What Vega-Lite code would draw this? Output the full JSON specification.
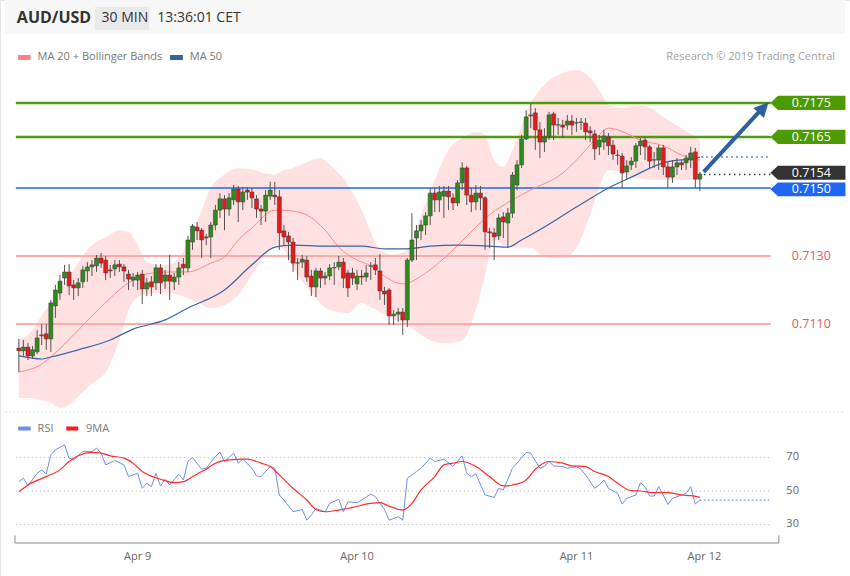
{
"$schema":"https://vega.github.io/schema/vega-lite/v6.json",
"width":850,"height":576,
"autosize":{"type":"fit","contains":"padding"},
"padding":0,
"background":"white",
"config":{"view":{"stroke":"#e4e4e4"},"font":"Open Sans"},
"datasets":{
"k":[
{"i":0,"o":0.71029,"h":0.71056,"l":0.70959,"c":0.71021},
{"i":1,"o":0.71021,"h":0.71053,"l":0.71006,"c":0.71032},
{"i":2,"o":0.71032,"h":0.71044,"l":0.70994,"c":0.71006},
{"i":3,"o":0.71006,"h":0.71035,"l":0.70997,"c":0.71024},
{"i":4,"o":0.71018,"h":0.71082,"l":0.71012,"c":0.71059},
{"i":5,"o":0.71065,"h":0.71100,"l":0.71038,"c":0.71068},
{"i":6,"o":0.71071,"h":0.71100,"l":0.71024,"c":0.71056},
{"i":7,"o":0.71056,"h":0.71171,"l":0.71018,"c":0.71162},
{"i":8,"o":0.71153,"h":0.71215,"l":0.71118,"c":0.71200},
{"i":9,"o":0.71191,"h":0.71244,"l":0.71171,"c":0.71226},
{"i":10,"o":0.71235,"h":0.71274,"l":0.71215,"c":0.71253},
{"i":11,"o":0.71253,"h":0.71276,"l":0.71185,"c":0.71212},
{"i":12,"o":0.71215,"h":0.71229,"l":0.71171,"c":0.71206},
{"i":13,"o":0.71206,"h":0.71235,"l":0.71182,"c":0.71221},
{"i":14,"o":0.71224,"h":0.71271,"l":0.71206,"c":0.71259},
{"i":15,"o":0.71256,"h":0.71282,"l":0.71224,"c":0.71268},
{"i":16,"o":0.71268,"h":0.71288,"l":0.71241,"c":0.71274},
{"i":17,"o":0.71271,"h":0.71303,"l":0.71253,"c":0.71294},
{"i":18,"o":0.71294,"h":0.71309,"l":0.71265,"c":0.71279},
{"i":19,"o":0.71288,"h":0.71300,"l":0.71229,"c":0.71250},
{"i":20,"o":0.71259,"h":0.71274,"l":0.71235,"c":0.71256},
{"i":21,"o":0.71262,"h":0.71288,"l":0.71241,"c":0.71274},
{"i":22,"o":0.71276,"h":0.71288,"l":0.71253,"c":0.71268},
{"i":23,"o":0.71268,"h":0.71276,"l":0.71224,"c":0.71256},
{"i":24,"o":0.71247,"h":0.71259,"l":0.71200,"c":0.71232},
{"i":25,"o":0.71229,"h":0.71250,"l":0.71209,"c":0.71238},
{"i":26,"o":0.71229,"h":0.71253,"l":0.71200,"c":0.71244},
{"i":27,"o":0.71247,"h":0.71259,"l":0.71159,"c":0.71203},
{"i":28,"o":0.71203,"h":0.71235,"l":0.71182,"c":0.71221},
{"i":29,"o":0.71224,"h":0.71241,"l":0.71182,"c":0.71209},
{"i":30,"o":0.71221,"h":0.71276,"l":0.71200,"c":0.71265},
{"i":31,"o":0.71265,"h":0.71276,"l":0.71188,"c":0.71221},
{"i":32,"o":0.71226,"h":0.71259,"l":0.71203,"c":0.71244},
{"i":33,"o":0.71244,"h":0.71303,"l":0.71171,"c":0.71226},
{"i":34,"o":0.71224,"h":0.71250,"l":0.71200,"c":0.71238},
{"i":35,"o":0.71238,"h":0.71282,"l":0.71215,"c":0.71265},
{"i":36,"o":0.71276,"h":0.71294,"l":0.71244,"c":0.71265},
{"i":37,"o":0.71265,"h":0.71359,"l":0.71253,"c":0.71347},
{"i":38,"o":0.71341,"h":0.71394,"l":0.71318,"c":0.71388},
{"i":39,"o":0.71385,"h":0.71400,"l":0.71347,"c":0.71374},
{"i":40,"o":0.71376,"h":0.71382,"l":0.71294,"c":0.71347},
{"i":41,"o":0.71353,"h":0.71365,"l":0.71332,"c":0.71356},
{"i":42,"o":0.71356,"h":0.71400,"l":0.71294,"c":0.71391},
{"i":43,"o":0.71391,"h":0.71450,"l":0.71376,"c":0.71435},
{"i":44,"o":0.71435,"h":0.71485,"l":0.71412,"c":0.71468},
{"i":45,"o":0.71468,"h":0.71479,"l":0.71376,"c":0.71438},
{"i":46,"o":0.71438,"h":0.71485,"l":0.71418,"c":0.71471},
{"i":47,"o":0.71465,"h":0.71509,"l":0.71450,"c":0.71497},
{"i":48,"o":0.71497,"h":0.71506,"l":0.71400,"c":0.71459},
{"i":49,"o":0.71459,"h":0.71503,"l":0.71435,"c":0.71488},
{"i":50,"o":0.71494,"h":0.71503,"l":0.71465,"c":0.71488},
{"i":51,"o":0.71488,"h":0.71500,"l":0.71441,"c":0.71471},
{"i":52,"o":0.71468,"h":0.71479,"l":0.71412,"c":0.71438},
{"i":53,"o":0.71438,"h":0.71450,"l":0.71391,"c":0.71432},
{"i":54,"o":0.71432,"h":0.71494,"l":0.71400,"c":0.71479},
{"i":55,"o":0.71476,"h":0.71518,"l":0.71465,"c":0.71494},
{"i":56,"o":0.71479,"h":0.71518,"l":0.71450,"c":0.71474},
{"i":57,"o":0.71474,"h":0.71494,"l":0.71318,"c":0.71368},
{"i":58,"o":0.71374,"h":0.71391,"l":0.71332,"c":0.71356},
{"i":59,"o":0.71359,"h":0.71371,"l":0.71288,"c":0.71341},
{"i":60,"o":0.71341,"h":0.71353,"l":0.71253,"c":0.71279},
{"i":61,"o":0.71279,"h":0.71294,"l":0.71229,"c":0.71280},
{"i":62,"o":0.71282,"h":0.71303,"l":0.71265,"c":0.71291},
{"i":63,"o":0.71288,"h":0.71300,"l":0.71224,"c":0.71238},
{"i":64,"o":0.71241,"h":0.71259,"l":0.71182,"c":0.71209},
{"i":65,"o":0.71209,"h":0.71265,"l":0.71179,"c":0.71256},
{"i":66,"o":0.71256,"h":0.71265,"l":0.71206,"c":0.71235},
{"i":67,"o":0.71235,"h":0.71253,"l":0.71215,"c":0.71241},
{"i":68,"o":0.71241,"h":0.71276,"l":0.71229,"c":0.71265},
{"i":69,"o":0.71265,"h":0.71282,"l":0.71215,"c":0.71266},
{"i":70,"o":0.71268,"h":0.71300,"l":0.71259,"c":0.71282},
{"i":71,"o":0.71282,"h":0.71294,"l":0.71206,"c":0.71235},
{"i":72,"o":0.71250,"h":0.71259,"l":0.71179,"c":0.71206},
{"i":73,"o":0.71250,"h":0.71265,"l":0.71215,"c":0.71235},
{"i":74,"o":0.71218,"h":0.71259,"l":0.71200,"c":0.71241},
{"i":75,"o":0.71241,"h":0.71259,"l":0.71215,"c":0.71238},
{"i":76,"o":0.71238,"h":0.71274,"l":0.71224,"c":0.71250},
{"i":77,"o":0.71271,"h":0.71282,"l":0.71229,"c":0.71270},
{"i":78,"o":0.71274,"h":0.71294,"l":0.71244,"c":0.71259},
{"i":79,"o":0.71256,"h":0.71306,"l":0.71171,"c":0.71197},
{"i":80,"o":0.71197,"h":0.71209,"l":0.71156,"c":0.71188},
{"i":81,"o":0.71200,"h":0.71206,"l":0.71097,"c":0.71124},
{"i":82,"o":0.71124,"h":0.71141,"l":0.71097,"c":0.71129},
{"i":83,"o":0.71129,"h":0.71147,"l":0.71106,"c":0.71135},
{"i":84,"o":0.71135,"h":0.71147,"l":0.71068,"c":0.71112},
{"i":85,"o":0.71112,"h":0.71294,"l":0.71091,"c":0.71288},
{"i":86,"o":0.71288,"h":0.71426,"l":0.71282,"c":0.71347},
{"i":87,"o":0.71353,"h":0.71391,"l":0.71288,"c":0.71374},
{"i":88,"o":0.71374,"h":0.71406,"l":0.71347,"c":0.71391},
{"i":89,"o":0.71391,"h":0.71429,"l":0.71362,"c":0.71418},
{"i":90,"o":0.71418,"h":0.71500,"l":0.71391,"c":0.71485},
{"i":91,"o":0.71485,"h":0.71500,"l":0.71429,"c":0.71465},
{"i":92,"o":0.71465,"h":0.71506,"l":0.71429,"c":0.71488},
{"i":93,"o":0.71476,"h":0.71506,"l":0.71412,"c":0.71491},
{"i":94,"o":0.71491,"h":0.71506,"l":0.71435,"c":0.71474},
{"i":95,"o":0.71471,"h":0.71485,"l":0.71435,"c":0.71456},
{"i":96,"o":0.71456,"h":0.71524,"l":0.71447,"c":0.71515},
{"i":97,"o":0.71515,"h":0.71576,"l":0.71494,"c":0.71559},
{"i":98,"o":0.71559,"h":0.71565,"l":0.71450,"c":0.71479},
{"i":99,"o":0.71479,"h":0.71500,"l":0.71429,"c":0.71459},
{"i":100,"o":0.71459,"h":0.71509,"l":0.71435,"c":0.71485},
{"i":101,"o":0.71485,"h":0.71506,"l":0.71435,"c":0.71471},
{"i":102,"o":0.71471,"h":0.71476,"l":0.71318,"c":0.71371},
{"i":103,"o":0.71371,"h":0.71382,"l":0.71324,"c":0.71368},
{"i":104,"o":0.71368,"h":0.71382,"l":0.71288,"c":0.71356},
{"i":105,"o":0.71359,"h":0.71424,"l":0.71347,"c":0.71412},
{"i":106,"o":0.71415,"h":0.71429,"l":0.71353,"c":0.71400},
{"i":107,"o":0.71397,"h":0.71441,"l":0.71324,"c":0.71426},
{"i":108,"o":0.71426,"h":0.71547,"l":0.71412,"c":0.71538},
{"i":109,"o":0.71509,"h":0.71582,"l":0.71494,"c":0.71568},
{"i":110,"o":0.71568,"h":0.71656,"l":0.71559,"c":0.71644},
{"i":111,"o":0.71644,"h":0.71729,"l":0.71641,"c":0.71709},
{"i":112,"o":0.71712,"h":0.71747,"l":0.71676,"c":0.71715},
{"i":113,"o":0.71721,"h":0.71735,"l":0.71612,"c":0.71671},
{"i":114,"o":0.71671,"h":0.71694,"l":0.71588,"c":0.71635},
{"i":115,"o":0.71635,"h":0.71676,"l":0.71606,"c":0.71650},
{"i":116,"o":0.71650,"h":0.71724,"l":0.71641,"c":0.71715},
{"i":117,"o":0.71718,"h":0.71724,"l":0.71641,"c":0.71685},
{"i":118,"o":0.71685,"h":0.71706,"l":0.71656,"c":0.71686},
{"i":119,"o":0.71685,"h":0.71700,"l":0.71647,"c":0.71679},
{"i":120,"o":0.71685,"h":0.71715,"l":0.71671,"c":0.71697},
{"i":121,"o":0.71697,"h":0.71715,"l":0.71656,"c":0.71685},
{"i":122,"o":0.71691,"h":0.71706,"l":0.71665,"c":0.71692},
{"i":123,"o":0.71694,"h":0.71706,"l":0.71671,"c":0.71693},
{"i":124,"o":0.71691,"h":0.71706,"l":0.71641,"c":0.71665},
{"i":125,"o":0.71668,"h":0.71682,"l":0.71635,"c":0.71662},
{"i":126,"o":0.71659,"h":0.71671,"l":0.71582,"c":0.71615},
{"i":127,"o":0.71621,"h":0.71656,"l":0.71597,"c":0.71641},
{"i":128,"o":0.71635,"h":0.71671,"l":0.71612,"c":0.71653},
{"i":129,"o":0.71650,"h":0.71662,"l":0.71597,"c":0.71624},
{"i":130,"o":0.71626,"h":0.71641,"l":0.71582,"c":0.71600},
{"i":131,"o":0.71597,"h":0.71612,"l":0.71568,"c":0.71596},
{"i":132,"o":0.71594,"h":0.71603,"l":0.71500,"c":0.71544},
{"i":133,"o":0.71547,"h":0.71582,"l":0.71524,"c":0.71565},
{"i":134,"o":0.71568,"h":0.71591,"l":0.71553,"c":0.71579},
{"i":135,"o":0.71579,"h":0.71632,"l":0.71559,"c":0.71624},
{"i":136,"o":0.71624,"h":0.71647,"l":0.71597,"c":0.71638},
{"i":137,"o":0.71641,"h":0.71650,"l":0.71582,"c":0.71621},
{"i":138,"o":0.71621,"h":0.71627,"l":0.71559,"c":0.71579},
{"i":139,"o":0.71582,"h":0.71606,"l":0.71559,"c":0.71583},
{"i":140,"o":0.71582,"h":0.71627,"l":0.71553,"c":0.71618},
{"i":141,"o":0.71618,"h":0.71627,"l":0.71538,"c":0.71562},
{"i":142,"o":0.71562,"h":0.71576,"l":0.71500,"c":0.71532},
{"i":143,"o":0.71532,"h":0.71582,"l":0.71515,"c":0.71562},
{"i":144,"o":0.71562,"h":0.71588,"l":0.71538,"c":0.71574},
{"i":145,"o":0.71574,"h":0.71582,"l":0.71553,"c":0.71568},
{"i":146,"o":0.71574,"h":0.71597,"l":0.71553,"c":0.71588},
{"i":147,"o":0.71582,"h":0.71621,"l":0.71559,"c":0.71603},
{"i":148,"o":0.71606,"h":0.71618,"l":0.71500,"c":0.71526},
{"i":149,"o":0.71526,"h":0.71547,"l":0.71491,"c":0.71541}
],
"bb":[
{"i":0,"up":0.71053,"lo":0.70882},{"i":3,"up":0.71082,"lo":0.70882},{"i":5,"up":0.71125,"lo":0.70875},{"i":7,"up":0.71160,"lo":0.70868},
{"i":9,"up":0.71200,"lo":0.70853},{"i":11,"up":0.71240,"lo":0.70862},{"i":14,"up":0.71300,"lo":0.70900},{"i":16,"up":0.71332,"lo":0.70925},
{"i":19,"up":0.71355,"lo":0.70959},{"i":22,"up":0.71376,"lo":0.71053},{"i":24,"up":0.71371,"lo":0.71141},{"i":26,"up":0.71332,"lo":0.71179},
{"i":28,"up":0.71282,"lo":0.71188},{"i":30,"up":0.71274,"lo":0.71191},{"i":33,"up":0.71274,"lo":0.71191},{"i":35,"up":0.71294,"lo":0.71185},
{"i":37,"up":0.71341,"lo":0.71175},{"i":39,"up":0.71400,"lo":0.71165},{"i":42,"up":0.71500,"lo":0.71147},{"i":45,"up":0.71540,"lo":0.71156},
{"i":48,"up":0.71558,"lo":0.71185},{"i":51,"up":0.71555,"lo":0.71244},{"i":54,"up":0.71542,"lo":0.71303},{"i":56,"up":0.71540,"lo":0.71332},
{"i":58,"up":0.71552,"lo":0.71318},{"i":60,"up":0.71559,"lo":0.71265},{"i":63,"up":0.71576,"lo":0.71210},{"i":66,"up":0.71588,"lo":0.71160},
{"i":68,"up":0.71568,"lo":0.71141},{"i":72,"up":0.71509,"lo":0.71132},{"i":75,"up":0.71435,"lo":0.71162},{"i":77,"up":0.71370,"lo":0.71150},
{"i":79,"up":0.71318,"lo":0.71135},{"i":82,"up":0.71303,"lo":0.71115},{"i":85,"up":0.71318,"lo":0.71097},{"i":88,"up":0.71421,"lo":0.71068},
{"i":91,"up":0.71524,"lo":0.71047},{"i":94,"up":0.71612,"lo":0.71044},{"i":97,"up":0.71647,"lo":0.71052},{"i":100,"up":0.71665,"lo":0.71141},
{"i":102,"up":0.71656,"lo":0.71244},{"i":104,"up":0.71582,"lo":0.71347},{"i":106,"up":0.71562,"lo":0.71332},{"i":108,"up":0.71612,"lo":0.71324},
{"i":112,"up":0.71750,"lo":0.71324},{"i":115,"up":0.71803,"lo":0.71297},{"i":119,"up":0.71838,"lo":0.71294},{"i":122,"up":0.71847,"lo":0.71324},
{"i":125,"up":0.71824,"lo":0.71421},{"i":127,"up":0.71788,"lo":0.71503},{"i":129,"up":0.71744,"lo":0.71553},{"i":132,"up":0.71735,"lo":0.71547},
{"i":135,"up":0.71744,"lo":0.71529},{"i":139,"up":0.71729,"lo":0.71524},{"i":142,"up":0.71700,"lo":0.71524},{"i":145,"up":0.71676,"lo":0.71524},
{"i":149,"up":0.71641,"lo":0.71524}
],
"ma20":[
{"i":0,"v":0.70959},{"i":5,"v":0.70982},{"i":7,"v":0.71003},{"i":13,"v":0.71082},{"i":18,"v":0.71150},{"i":24,"v":0.71221},
{"i":28,"v":0.71247},{"i":33,"v":0.71253},{"i":37,"v":0.71253},{"i":42,"v":0.71279},{"i":45,"v":0.71297},{"i":48,"v":0.71347},
{"i":51,"v":0.71382},{"i":56,"v":0.71435},{"i":60,"v":0.71432},{"i":63,"v":0.71421},{"i":67,"v":0.71376},{"i":70,"v":0.71326},
{"i":74,"v":0.71288},{"i":77,"v":0.71271},{"i":79,"v":0.71250},{"i":84,"v":0.71218},{"i":89,"v":0.71250},{"i":95,"v":0.71318},
{"i":100,"v":0.71385},{"i":103,"v":0.71421},{"i":108,"v":0.71465},{"i":112,"v":0.71494},{"i":119,"v":0.71544},{"i":122,"v":0.71582},
{"i":126,"v":0.71641},{"i":129,"v":0.71676},{"i":131,"v":0.71671},{"i":136,"v":0.71641},{"i":141,"v":0.71624},{"i":145,"v":0.71597},
{"i":149,"v":0.71582}
],
"ma50":[
{"i":0,"v":0.71006},{"i":5,"v":0.70997},{"i":7,"v":0.71003},{"i":13,"v":0.71024},{"i":20,"v":0.71053},{"i":25,"v":0.71085},
{"i":32,"v":0.71112},{"i":37,"v":0.71147},{"i":45,"v":0.71200},{"i":51,"v":0.71274},{"i":56,"v":0.71326},{"i":60,"v":0.71332},
{"i":67,"v":0.71329},{"i":75,"v":0.71329},{"i":80,"v":0.71321},{"i":85,"v":0.71321},{"i":90,"v":0.71329},{"i":96,"v":0.71332},
{"i":103,"v":0.71329},{"i":107,"v":0.71326},{"i":110,"v":0.71347},{"i":115,"v":0.71385},{"i":122,"v":0.71444},{"i":129,"v":0.71500},
{"i":134,"v":0.71532},{"i":141,"v":0.71574},{"i":148,"v":0.71588},{"i":149,"v":0.71591}
],
"rsi":[
{"i":0,"r":55.6},{"i":1,"r":57.6},{"i":2,"r":53},{"i":4,"r":60.6},{"i":5,"r":62.6},{"i":6,"r":60.2},{"i":7,"r":71.6},{"i":8,"r":74.6},
{"i":10,"r":77.6},{"i":11,"r":69.6},{"i":12,"r":68.6},{"i":14,"r":73.6},{"i":16,"r":73.5},{"i":17,"r":75.6},{"i":18,"r":72.6},{"i":19,"r":65.6},
{"i":21,"r":68.2},{"i":23,"r":65.6},{"i":24,"r":58.6},{"i":26,"r":60.6},{"i":27,"r":51.6},{"i":28,"r":54.6},{"i":29,"r":52.6},{"i":30,"r":60.6},
{"i":31,"r":53},{"i":32,"r":57},{"i":33,"r":53.6},{"i":35,"r":60},{"i":36,"r":56.6},{"i":37,"r":67.6},{"i":38,"r":70},{"i":40,"r":63},
{"i":41,"r":63.6},{"i":43,"r":70.6},{"i":44,"r":73.2},{"i":45,"r":67.6},{"i":47,"r":72.6},{"i":48,"r":66.6},{"i":49,"r":69},{"i":51,"r":63.6},
{"i":52,"r":59},{"i":53,"r":58.6},{"i":55,"r":64.6},{"i":56,"r":63.6},{"i":57,"r":47.6},{"i":58,"r":44.6},{"i":60,"r":37.6},{"i":62,"r":39},
{"i":63,"r":32.6},{"i":64,"r":35.6},{"i":65,"r":39.6},{"i":67,"r":37.6},{"i":68,"r":42.6},{"i":70,"r":45},{"i":71,"r":37.6},{"i":72,"r":43.6},
{"i":74,"r":43},{"i":75,"r":44.6},{"i":77,"r":48.2},{"i":78,"r":46.6},{"i":80,"r":39},{"i":81,"r":32.6},{"i":82,"r":33.6},{"i":83,"r":34.6},
{"i":84,"r":32.6},{"i":85,"r":57.6},{"i":87,"r":61.6},{"i":88,"r":63.6},{"i":90,"r":69.6},{"i":91,"r":67.6},{"i":93,"r":69},{"i":95,"r":64.6},
{"i":97,"r":71},{"i":98,"r":60.6},{"i":99,"r":58.6},{"i":100,"r":60.2},{"i":102,"r":47.6},{"i":104,"r":46.2},{"i":105,"r":51.6},{"i":106,"r":50.6},
{"i":108,"r":63.6},{"i":109,"r":66.6},{"i":111,"r":73},{"i":112,"r":72.6},{"i":114,"r":63.6},{"i":115,"r":64.6},{"i":116,"r":67.6},{"i":117,"r":65},
{"i":119,"r":64.6},{"i":120,"r":63.6},{"i":122,"r":64.6},{"i":123,"r":63},{"i":124,"r":59.6},{"i":126,"r":51.6},{"i":127,"r":53.6},{"i":128,"r":56.6},
{"i":129,"r":51.6},{"i":131,"r":48.6},{"i":132,"r":42.2},{"i":133,"r":45.6},{"i":135,"r":47.6},{"i":136,"r":55},{"i":137,"r":52.6},{"i":138,"r":47},
{"i":139,"r":47},{"i":140,"r":52.6},{"i":141,"r":47.6},{"i":142,"r":42},{"i":143,"r":45.6},{"i":145,"r":47.6},{"i":146,"r":48.6},{"i":147,"r":52.6},
{"i":148,"r":42.2},{"i":149,"r":44.6}
],
"ma9":[
{"i":0,"m":49.6},{"i":2,"m":53.6},{"i":6,"m":58.6},{"i":9,"m":62.6},{"i":11,"m":67.6},{"i":13,"m":71},{"i":16,"m":73},{"i":18,"m":72.6},
{"i":20,"m":71},{"i":23,"m":69.6},{"i":25,"m":66.6},{"i":27,"m":61.6},{"i":31,"m":57},{"i":34,"m":55},{"i":36,"m":55.6},{"i":39,"m":60.2},
{"i":41,"m":63},{"i":43,"m":66.6},{"i":46,"m":68.6},{"i":49,"m":69},{"i":50,"m":69},{"i":53,"m":66.6},{"i":55,"m":64.6},{"i":57,"m":59.6},
{"i":60,"m":51.6},{"i":63,"m":44.6},{"i":65,"m":39},{"i":67,"m":37.6},{"i":70,"m":38.6},{"i":73,"m":40.2},{"i":77,"m":42.6},{"i":79,"m":43},
{"i":81,"m":41},{"i":84,"m":38.6},{"i":86,"m":42.6},{"i":88,"m":50.6},{"i":91,"m":58.6},{"i":93,"m":65.6},{"i":95,"m":66.6},{"i":97,"m":67.6},
{"i":100,"m":64.6},{"i":103,"m":58.6},{"i":106,"m":53},{"i":108,"m":53.6},{"i":111,"m":56.6},{"i":113,"m":63},{"i":116,"m":67.6},{"i":119,"m":66.6},
{"i":121,"m":65},{"i":124,"m":64.6},{"i":126,"m":61.6},{"i":129,"m":58.6},{"i":131,"m":54.6},{"i":134,"m":50.2},{"i":136,"m":50},{"i":139,"m":49},
{"i":142,"m":49},{"i":145,"m":47.6},{"i":147,"m":47.2},{"i":149,"m":46.2}
]
},
"layer":[
{
"layer":[
{"data":{"values":[{}]},"mark":{"type":"rect","fill":"#f7f7f7"},
 "encoding":{"x":{"datum":-3.03,"type":"quantitative","scale":{"domain":[-3.027,180.757],"nice":false,"zero":false},"axis":null},"x2":{"datum":180.76},
 "y":{"datum":0.720529,"type":"quantitative","scale":{"domain":[0.703588,0.720529],"nice":false,"zero":false},"axis":null},"y2":{"datum":0.71953}}},
{"data":{"values":[{}]},"mark":{"type":"rect","fill":"#e9e9e9"},
 "encoding":{"x":{"datum":16.65,"type":"quantitative","scale":{"domain":[-3.027,180.757],"nice":false,"zero":false},"axis":null},"x2":{"datum":28.54},
 "y":{"datum":0.720324,"type":"quantitative","scale":{"domain":[0.703588,0.720529],"nice":false,"zero":false},"axis":null},"y2":{"datum":0.719647}}},
{"data":{"values":[{}]},"mark":{"type":"text","text":"AUD/USD","align":"left","baseline":"middle","fontSize":16,"fontWeight":"bold","fill":"#333333"},
 "encoding":{"x":{"datum":-0.43,"type":"quantitative","scale":{"domain":[-3.027,180.757],"nice":false,"zero":false},"axis":null},
 "y":{"datum":0.72000,"type":"quantitative","scale":{"domain":[0.703588,0.720529],"nice":false,"zero":false},"axis":null}}},
{"data":{"values":[{}]},"mark":{"type":"text","text":"30 MIN","align":"left","baseline":"middle","fontSize":14,"fill":"#333333"},
 "encoding":{"x":{"datum":18.1,"type":"quantitative","scale":{"domain":[-3.027,180.757],"nice":false,"zero":false},"axis":null},
 "y":{"datum":0.72000,"type":"quantitative","scale":{"domain":[0.703588,0.720529],"nice":false,"zero":false},"axis":null}}},
{"data":{"values":[{}]},"mark":{"type":"text","text":"13:36:01 CET","align":"left","baseline":"middle","fontSize":14,"fill":"#333333"},
 "encoding":{"x":{"datum":30.3,"type":"quantitative","scale":{"domain":[-3.027,180.757],"nice":false,"zero":false},"axis":null},
 "y":{"datum":0.72000,"type":"quantitative","scale":{"domain":[0.703588,0.720529],"nice":false,"zero":false},"axis":null}}},
{"data":{"values":[{}]},"mark":{"type":"rect","fill":"#ff8080"},
 "encoding":{"x":{"datum":-0.15,"type":"quantitative","scale":{"domain":[-3.027,180.757],"nice":false,"zero":false},"axis":null},"x2":{"datum":2.59},
 "y":{"datum":0.718912,"type":"quantitative","scale":{"domain":[0.703588,0.720529],"nice":false,"zero":false},"axis":null},"y2":{"datum":0.718765}}},
{"data":{"values":[{}]},"mark":{"type":"rect","fill":"#3561a6"},
 "encoding":{"x":{"datum":33.08,"type":"quantitative","scale":{"domain":[-3.027,180.757],"nice":false,"zero":false},"axis":null},"x2":{"datum":35.89},
 "y":{"datum":0.718912,"type":"quantitative","scale":{"domain":[0.703588,0.720529],"nice":false,"zero":false},"axis":null},"y2":{"datum":0.718765}}},
{"data":{"values":[{}]},"mark":{"type":"text","text":"MA 20 + Bollinger Bands","align":"left","baseline":"middle","fontSize":11,"fill":"#777777"},
 "encoding":{"x":{"datum":4.11,"type":"quantitative","scale":{"domain":[-3.027,180.757],"nice":false,"zero":false},"axis":null},
 "y":{"datum":0.718838,"type":"quantitative","scale":{"domain":[0.703588,0.720529],"nice":false,"zero":false},"axis":null}}},
{"data":{"values":[{}]},"mark":{"type":"text","text":"MA 50","align":"left","baseline":"middle","fontSize":11,"fill":"#777777"},
 "encoding":{"x":{"datum":37.41,"type":"quantitative","scale":{"domain":[-3.027,180.757],"nice":false,"zero":false},"axis":null},
 "y":{"datum":0.718838,"type":"quantitative","scale":{"domain":[0.703588,0.720529],"nice":false,"zero":false},"axis":null}}},
{"data":{"values":[{}]},"mark":{"type":"text","text":"Research © 2019 Trading Central","align":"right","baseline":"middle","fontSize":11,"fill":"#a0a0a0"},
 "encoding":{"x":{"datum":178.59,"type":"quantitative","scale":{"domain":[-3.027,180.757],"nice":false,"zero":false},"axis":null},
 "y":{"datum":0.718838,"type":"quantitative","scale":{"domain":[0.703588,0.720529],"nice":false,"zero":false},"axis":null}}},
{"data":{"name":"bb"},"mark":{"type":"area","fill":"#ffe1e1","interpolate":"monotone"},
 "encoding":{"x":{"field":"i","type":"quantitative","scale":{"domain":[-3.027,180.757],"nice":false,"zero":false},"axis":null},
 "y":{"field":"up","type":"quantitative","scale":{"domain":[0.703588,0.720529],"nice":false,"zero":false},"axis":null},"y2":{"field":"lo"}}},
{"data":{"values":[{"p":0.7130},{"p":0.7110}]},"mark":{"type":"rule","stroke":"#ffaaaa","strokeWidth":2},
 "encoding":{"x":{"datum":-0.65,"type":"quantitative","scale":{"domain":[-3.027,180.757],"nice":false,"zero":false},"axis":null},"x2":{"datum":164.54},
 "y":{"field":"p","type":"quantitative","scale":{"domain":[0.703588,0.720529],"nice":false,"zero":false},"axis":null}}},
{"data":{"values":[{"p":0.7175},{"p":0.7165}]},"mark":{"type":"rule","stroke":"#4f9a0f","strokeWidth":2.5},
 "encoding":{"x":{"datum":-0.65,"type":"quantitative","scale":{"domain":[-3.027,180.757],"nice":false,"zero":false},"axis":null},"x2":{"datum":164.54},
 "y":{"field":"p","type":"quantitative","scale":{"domain":[0.703588,0.720529],"nice":false,"zero":false},"axis":null}}},
{"data":{"values":[{"p":0.7150}]},"mark":{"type":"rule","stroke":"#2266ee","strokeWidth":1.5},
 "encoding":{"x":{"datum":-0.65,"type":"quantitative","scale":{"domain":[-3.027,180.757],"nice":false,"zero":false},"axis":null},"x2":{"datum":164.54},
 "y":{"field":"p","type":"quantitative","scale":{"domain":[0.703588,0.720529],"nice":false,"zero":false},"axis":null}}},
{"data":{"name":"ma20"},"mark":{"type":"line","stroke":"#ff8888","strokeWidth":1,"interpolate":"monotone"},
 "encoding":{"x":{"field":"i","type":"quantitative","scale":{"domain":[-3.027,180.757],"nice":false,"zero":false},"axis":null},
 "y":{"field":"v","type":"quantitative","scale":{"domain":[0.703588,0.720529],"nice":false,"zero":false},"axis":null}}},
{"data":{"name":"ma50"},"mark":{"type":"line","stroke":"#3a64a8","strokeWidth":1.2,"interpolate":"monotone"},
 "encoding":{"x":{"field":"i","type":"quantitative","scale":{"domain":[-3.027,180.757],"nice":false,"zero":false},"axis":null},
 "y":{"field":"v","type":"quantitative","scale":{"domain":[0.703588,0.720529],"nice":false,"zero":false},"axis":null}}},
{"data":{"name":"k"},"mark":{"type":"rule","stroke":"#5a5252","strokeWidth":1},
 "encoding":{"x":{"field":"i","type":"quantitative","scale":{"domain":[-3.027,180.757],"nice":false,"zero":false},"axis":null},
 "y":{"field":"l","type":"quantitative","scale":{"domain":[0.703588,0.720529],"nice":false,"zero":false},"axis":null},"y2":{"field":"h"}}},
{"data":{"name":"k"},"mark":{"type":"bar","width":4,"stroke":"#3a3a3a","strokeWidth":0.5},
 "encoding":{"x":{"field":"i","type":"quantitative","scale":{"domain":[-3.027,180.757],"nice":false,"zero":false},"axis":null},
 "y":{"field":"o","type":"quantitative","scale":{"domain":[0.703588,0.720529],"nice":false,"zero":false},"axis":null},"y2":{"field":"c"},
 "color":{"condition":{"test":"datum.c >= datum.o","value":"#2e8a1e"},"value":"#e31b1b"}}},
{"data":{"values":[{"p":0.715912}]},"mark":{"type":"rule","stroke":"#3a64a8","strokeWidth":1.5,"strokeDash":[1.5,3.5]},
 "encoding":{"x":{"datum":149.3,"type":"quantitative","scale":{"domain":[-3.027,180.757],"nice":false,"zero":false},"axis":null},"x2":{"datum":164.54},
 "y":{"field":"p","type":"quantitative","scale":{"domain":[0.703588,0.720529],"nice":false,"zero":false},"axis":null}}},
{"data":{"values":[{"p":0.7154}]},"mark":{"type":"rule","stroke":"#333333","strokeWidth":1.5,"strokeDash":[1.5,3.5]},
 "encoding":{"x":{"datum":149.9,"type":"quantitative","scale":{"domain":[-3.027,180.757],"nice":false,"zero":false},"axis":null},"x2":{"datum":164.54},
 "y":{"field":"p","type":"quantitative","scale":{"domain":[0.703588,0.720529],"nice":false,"zero":false},"axis":null}}},
{"data":{"values":[{}]},"mark":{"type":"rule","stroke":"#2e5f9e","strokeWidth":4},
 "encoding":{"x":{"datum":149.84,"type":"quantitative","scale":{"domain":[-3.027,180.757],"nice":false,"zero":false},"axis":null},"x2":{"datum":162.16},
 "y":{"datum":0.715471,"type":"quantitative","scale":{"domain":[0.703588,0.720529],"nice":false,"zero":false},"axis":null},"y2":{"datum":0.717265}}},
{"data":{"values":[{}]},"mark":{"type":"point","shape":"M 0 -1 L 1 1 L -1 1 Z","filled":true,"fill":"#2e5f9e","opacity":1,"size":210,"angle":43},
 "encoding":{"x":{"datum":162.94,"type":"quantitative","scale":{"domain":[-3.027,180.757],"nice":false,"zero":false},"axis":null},
 "y":{"datum":0.717363,"type":"quantitative","scale":{"domain":[0.703588,0.720529],"nice":false,"zero":false},"axis":null}}},
{"data":{"values":[{"p":0.7175},{"p":0.7165}]},"mark":{"type":"point","shape":"M -1 0 L -0.8 -0.19 L 1 -0.19 L 1 0.19 L -0.8 0.19 Z","filled":true,"fill":"#4c9c00","opacity":1,"size":5625},
 "encoding":{"x":{"datum":172.65,"type":"quantitative","scale":{"domain":[-3.027,180.757],"nice":false,"zero":false},"axis":null},
 "y":{"field":"p","type":"quantitative","scale":{"domain":[0.703588,0.720529],"nice":false,"zero":false},"axis":null}}},
{"data":{"values":[{"p":0.71545}]},"mark":{"type":"point","shape":"M -1 0 L -0.8 -0.185 L 1 -0.185 L 1 0.185 L -0.8 0.185 Z","filled":true,"fill":"#333333","opacity":1,"size":5625},
 "encoding":{"x":{"datum":172.65,"type":"quantitative","scale":{"domain":[-3.027,180.757],"nice":false,"zero":false},"axis":null},
 "y":{"field":"p","type":"quantitative","scale":{"domain":[0.703588,0.720529],"nice":false,"zero":false},"axis":null}}},
{"data":{"values":[{"p":0.71496}]},"mark":{"type":"point","shape":"M -1 0 L -0.8 -0.185 L 1 -0.185 L 1 0.185 L -0.8 0.185 Z","filled":true,"fill":"#1f66f2","opacity":1,"size":5625},
 "encoding":{"x":{"datum":172.65,"type":"quantitative","scale":{"domain":[-3.027,180.757],"nice":false,"zero":false},"axis":null},
 "y":{"field":"p","type":"quantitative","scale":{"domain":[0.703588,0.720529],"nice":false,"zero":false},"axis":null}}},
{"data":{"values":[{"p":0.7175,"t":"0.7175"},{"p":0.7165,"t":"0.7165"},{"p":0.71545,"t":"0.7154"},{"p":0.71496,"t":"0.7150"}]},
 "mark":{"type":"text","align":"center","baseline":"middle","fontSize":12.5,"fill":"white"},
 "encoding":{"x":{"datum":173.4,"type":"quantitative","scale":{"domain":[-3.027,180.757],"nice":false,"zero":false},"axis":null},
 "y":{"field":"p","type":"quantitative","scale":{"domain":[0.703588,0.720529],"nice":false,"zero":false},"axis":null},"text":{"field":"t"}}},
{"data":{"values":[{"p":0.7130,"t":"0.7130"},{"p":0.7110,"t":"0.7110"}]},
 "mark":{"type":"text","align":"center","baseline":"middle","fontSize":12.5,"fill":"#e25b5b"},
 "encoding":{"x":{"datum":173.4,"type":"quantitative","scale":{"domain":[-3.027,180.757],"nice":false,"zero":false},"axis":null},
 "y":{"field":"p","type":"quantitative","scale":{"domain":[0.703588,0.720529],"nice":false,"zero":false},"axis":null},"text":{"field":"t"}}}
]
},
{
"layer":[
{"data":{"values":[{}]},"mark":{"type":"rule","stroke":"#e2e2e2","strokeWidth":1,"strokeDash":[2,2]},
 "encoding":{"x":{"datum":-3.03,"type":"quantitative","scale":{"domain":[-3.027,180.757],"nice":false,"zero":false},"axis":null},"x2":{"datum":180.76},
 "y":{"datum":97.16,"type":"quantitative","scale":{"domain":[-0.75,343.13],"nice":false,"zero":false},"axis":null}}},
{"data":{"values":[{"r":70},{"r":50},{"r":30}]},"mark":{"type":"rule","stroke":"#bbbbbb","strokeWidth":1,"strokeDash":[1,3]},
 "encoding":{"x":{"datum":-0.65,"type":"quantitative","scale":{"domain":[-3.027,180.757],"nice":false,"zero":false},"axis":null},"x2":{"datum":164.54},
 "y":{"field":"r","type":"quantitative","scale":{"domain":[-0.75,343.13],"nice":false,"zero":false},"axis":null}}},
{"data":{"values":[{"r":70,"t":"70"},{"r":50,"t":"50"},{"r":30,"t":"30"}]},"mark":{"type":"text","align":"center","baseline":"middle","fontSize":11,"fill":"#666666"},
 "encoding":{"x":{"datum":169.3,"type":"quantitative","scale":{"domain":[-3.027,180.757],"nice":false,"zero":false},"axis":null},
 "y":{"field":"r","type":"quantitative","scale":{"domain":[-0.75,343.13],"nice":false,"zero":false},"axis":null},"text":{"field":"t"}}},
{"data":{"name":"rsi"},"mark":{"type":"line","stroke":"#6f8fe8","strokeWidth":1},
 "encoding":{"x":{"field":"i","type":"quantitative","scale":{"domain":[-3.027,180.757],"nice":false,"zero":false},"axis":null},
 "y":{"field":"r","type":"quantitative","scale":{"domain":[-0.75,343.13],"nice":false,"zero":false},"axis":null}}},
{"data":{"name":"ma9"},"mark":{"type":"line","stroke":"#ff2a2a","strokeWidth":1.2,"interpolate":"monotone"},
 "encoding":{"x":{"field":"i","type":"quantitative","scale":{"domain":[-3.027,180.757],"nice":false,"zero":false},"axis":null},
 "y":{"field":"m","type":"quantitative","scale":{"domain":[-0.75,343.13],"nice":false,"zero":false},"axis":null}}},
{"data":{"values":[{"r":44.6}]},"mark":{"type":"rule","stroke":"#6f8fe8","strokeWidth":1.2,"strokeDash":[1.5,2.5]},
 "encoding":{"x":{"datum":149,"type":"quantitative","scale":{"domain":[-3.027,180.757],"nice":false,"zero":false},"axis":null},"x2":{"datum":164.54},
 "y":{"field":"r","type":"quantitative","scale":{"domain":[-0.75,343.13],"nice":false,"zero":false},"axis":null}}},
{"data":{"values":[{}]},"mark":{"type":"rect","fill":"#6f8fe8"},
 "encoding":{"x":{"datum":-0.15,"type":"quantitative","scale":{"domain":[-3.027,180.757],"nice":false,"zero":false},"axis":null},"x2":{"datum":2.59},
 "y":{"datum":88.5,"type":"quantitative","scale":{"domain":[-0.75,343.13],"nice":false,"zero":false},"axis":null},"y2":{"datum":86.1}}},
{"data":{"values":[{}]},"mark":{"type":"rect","fill":"#ff1a1a"},
 "encoding":{"x":{"datum":10.38,"type":"quantitative","scale":{"domain":[-3.027,180.757],"nice":false,"zero":false},"axis":null},"x2":{"datum":13.0},
 "y":{"datum":88.5,"type":"quantitative","scale":{"domain":[-0.75,343.13],"nice":false,"zero":false},"axis":null},"y2":{"datum":86.1}}},
{"data":{"values":[{}]},"mark":{"type":"text","text":"RSI","align":"left","baseline":"middle","fontSize":11,"fill":"#777777"},
 "encoding":{"x":{"datum":4.11,"type":"quantitative","scale":{"domain":[-3.027,180.757],"nice":false,"zero":false},"axis":null},
 "y":{"datum":87.3,"type":"quantitative","scale":{"domain":[-0.75,343.13],"nice":false,"zero":false},"axis":null}}},
{"data":{"values":[{}]},"mark":{"type":"text","text":"9MA","align":"left","baseline":"middle","fontSize":11,"fill":"#777777"},
 "encoding":{"x":{"datum":14.7,"type":"quantitative","scale":{"domain":[-3.027,180.757],"nice":false,"zero":false},"axis":null},
 "y":{"datum":87.3,"type":"quantitative","scale":{"domain":[-0.75,343.13],"nice":false,"zero":false},"axis":null}}},
{"data":{"values":[{}]},"mark":{"type":"rule","stroke":"#b0b0b0","strokeWidth":1.5},
 "encoding":{"x":{"datum":-0.86,"type":"quantitative","scale":{"domain":[-3.027,180.757],"nice":false,"zero":false},"axis":null},"x2":{"datum":166.27},
 "y":{"datum":18.96,"type":"quantitative","scale":{"domain":[-0.75,343.13],"nice":false,"zero":false},"axis":null}}},
{"data":{"values":[{"x":-0.86},{"x":166.27}]},"mark":{"type":"rule","stroke":"#b0b0b0","strokeWidth":1.5},
 "encoding":{"x":{"field":"x","type":"quantitative","scale":{"domain":[-3.027,180.757],"nice":false,"zero":false},"axis":null},
 "y":{"datum":18.96,"type":"quantitative","scale":{"domain":[-0.75,343.13],"nice":false,"zero":false},"axis":null},"y2":{"datum":23.5}}},
{"data":{"values":[{"i":26,"t":"Apr 9"},{"i":74,"t":"Apr 10"},{"i":122,"t":"Apr 11"},{"i":150,"t":"Apr 12"}]},
 "mark":{"type":"text","align":"center","baseline":"middle","fontSize":11,"fill":"#666666"},
 "encoding":{"x":{"field":"i","type":"quantitative","scale":{"domain":[-3.027,180.757],"nice":false,"zero":false},"axis":null},
 "y":{"datum":10.6,"type":"quantitative","scale":{"domain":[-0.75,343.13],"nice":false,"zero":false},"axis":null},"text":{"field":"t"}}}
]
}
],
"resolve":{"scale":{"y":"independent"}}
}
